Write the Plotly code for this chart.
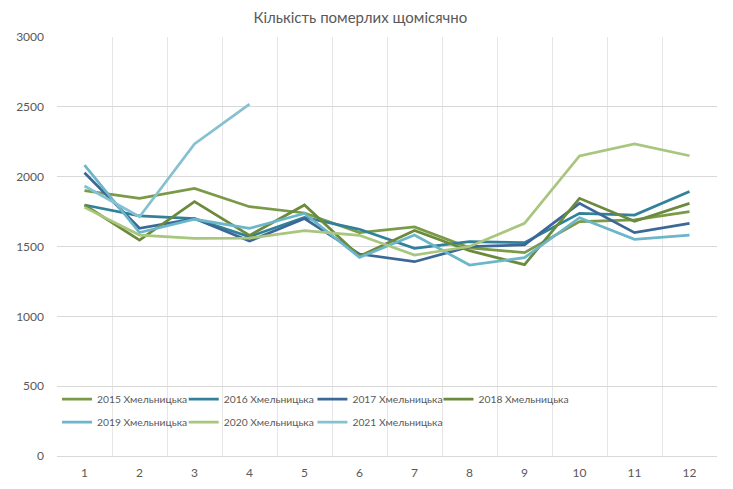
import plotly.graph_objects as go

months = [str(m) for m in range(1, 13)]

deaths_2015 = [1900, 1845, 1916, 1785, 1740, 1600, 1640, 1490, 1456, 1678, 1690, 1749]
deaths_2016 = [1797, 1720, 1700, 1570, 1709, 1623, 1487, 1535, 1528, 1737, 1725, 1893]
deaths_2017 = [2028, 1630, 1700, 1539, 1700, 1446, 1391, 1499, 1511, 1809, 1599, 1666]
deaths_2018 = [1797, 1546, 1821, 1580, 1797, 1430, 1615, 1470, 1370, 1845, 1680, 1809]
deaths_2019 = [2083, 1600, 1695, 1630, 1737, 1422, 1582, 1367, 1420, 1706, 1551, 1582]
deaths_2020 = [1780, 1582, 1558, 1560, 1613, 1580, 1439, 1500, 1666, 2148, 2235, 2150]
deaths_2021 = [1933, 1713, 2234, 2520]

series = [
    ("2015 Хмельницька", deaths_2015, "#7a9a48"),
    ("2016 Хмельницька", deaths_2016, "#31819a"),
    ("2017 Хмельницька", deaths_2017, "#3c6897"),
    ("2018 Хмельницька", deaths_2018, "#6b8a3c"),
    ("2019 Хмельницька", deaths_2019, "#6cb6ca"),
    ("2020 Хмельницька", deaths_2020, "#a8c67e"),
    ("2021 Хмельницька", deaths_2021, "#86c1d1"),
]

# one legend per entry so the grid of entries can be placed like the original
legend_pos = [(0.0, 0.136), (0.192, 0.136), (0.387, 0.136), (0.578, 0.136),
              (0.0, 0.081), (0.192, 0.081), (0.387, 0.081)]

grey = "#595959"
fig = go.Figure()
legends = {}
for i, (name, vals, color) in enumerate(series):
    key = "legend" if i == 0 else f"legend{i + 1}"
    fig.add_trace(go.Scatter(
        x=months[:len(vals)], y=vals, mode="lines", name=name, legend=key,
        line=dict(color=color, width=2.75),
    ))
    lx, ly = legend_pos[i]
    legends[key] = dict(x=lx, y=ly, xanchor="left", yanchor="middle",
                        orientation="h", font=dict(size=10.3, color=grey),
                        bgcolor="rgba(0,0,0,0)", itemwidth=30)

# page body has an 8px margin, so the figure is a bit smaller than the window
fig.update_layout(
    width=725, height=481,
    margin=dict(l=49, r=16, t=29, b=33),
    paper_bgcolor="white", plot_bgcolor="white",
    font=dict(family="Lato", size=12, color=grey),
    title=dict(text="Кількість померлих щомісячно", x=0.486, xanchor="center",
               y=0.979, yanchor="middle", font=dict(size=15, color=grey)),
    showlegend=True,
    **legends,
)
fig.update_xaxes(type="category", tickson="boundaries", ticklen=0,
                 range=[-0.5, 11.5], automargin=False,
                 showgrid=True, gridcolor="#e6e6e6", gridwidth=1,
                 showline=True, linecolor="#d9d9d9", linewidth=1,
                 ticklabelstandoff=6,
                 tickfont=dict(size=12, color=grey))
fig.update_yaxes(range=[0, 3000], dtick=500, showgrid=True, gridcolor="#d9d9d9",
                 gridwidth=1, zeroline=False, ticks="", ticklabelstandoff=12,
                 automargin=False,
                 tickfont=dict(size=12, color=grey))

fig.write_html("out.html")
